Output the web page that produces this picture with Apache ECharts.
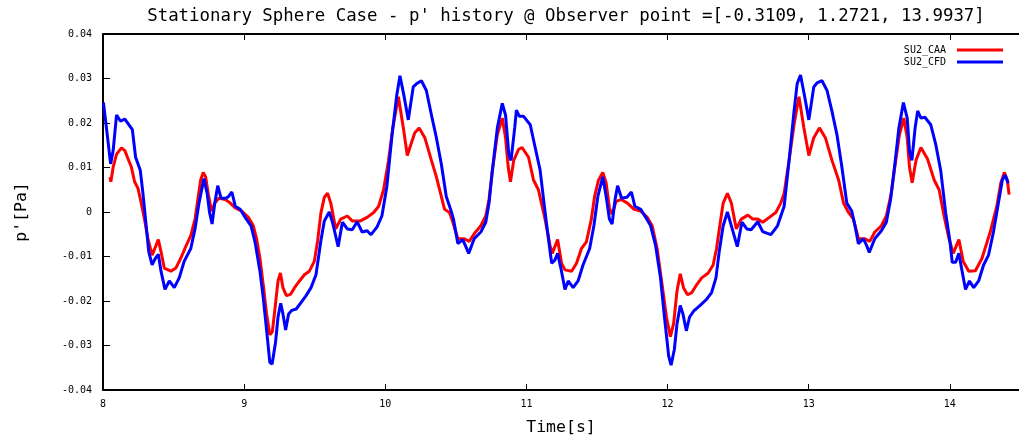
<!DOCTYPE html>
<html><head><meta charset="utf-8">
<script src="https://cdn.jsdelivr.net/npm/echarts@6/dist/echarts.min.js"></script>
<style>html,body{margin:0;padding:0;background:#fff}#c{width:1019px;height:441px}</style>
</head><body><div id="c"></div>
<script>
const chartTitle = "Stationary Sphere Case - p' history @ Observer point =[-0.3109, 1.2721, 13.9937]";
const xName = "Time[s]";
const yName = "p'[Pa]";
const seriesNames = ["SU2_CAA", "SU2_CFD"];

const caaTime = [8.049,8.056,8.072,8.096,8.131,8.155,8.178,8.201,8.224,8.248,8.271,8.294,8.318,8.348,8.376,8.392,8.411,8.434,8.481,8.516,8.551,8.586,8.622,8.652,8.675,8.692,8.710,8.727,8.745,8.769,8.792,8.820,8.867,8.902,8.937,8.983,9.030,9.065,9.088,9.112,9.135,9.159,9.182,9.200,9.222,9.240,9.257,9.275,9.299,9.329,9.357,9.392,9.427,9.462,9.497,9.521,9.544,9.568,9.591,9.614,9.649,9.684,9.731,9.766,9.824,9.871,9.918,9.953,9.988,10.023,10.053,10.093,10.128,10.156,10.186,10.209,10.240,10.280,10.327,10.362,10.397,10.420,10.455,10.479,10.514,10.560,10.595,10.630,10.677,10.712,10.735,10.759,10.794,10.829,10.852,10.871,10.887,10.910,10.945,10.969,11.015,11.050,11.085,11.132,11.167,11.183,11.221,11.249,11.273,11.320,11.355,11.390,11.425,11.460,11.483,11.511,11.541,11.565,11.588,11.607,11.635,11.670,11.716,11.763,11.810,11.856,11.891,11.926,11.961,11.992,12.020,12.043,12.067,12.090,12.113,12.141,12.172,12.207,12.242,12.288,12.323,12.347,12.370,12.394,12.424,12.452,12.487,12.522,12.569,12.604,12.639,12.674,12.721,12.767,12.802,12.826,12.861,12.896,12.931,12.966,13.001,13.036,13.076,13.118,13.165,13.212,13.247,13.282,13.317,13.352,13.398,13.433,13.468,13.515,13.550,13.585,13.613,13.643,13.674,13.698,13.714,13.733,13.760,13.795,13.842,13.889,13.924,13.959,13.994,14.024,14.064,14.095,14.134,14.181,14.228,14.286,14.333,14.361,14.386,14.407,14.420];
const caaP = [0.0078,0.0068,0.0101,0.0130,0.0144,0.0138,0.0119,0.0101,0.0068,0.0053,0.0020,-0.0016,-0.0060,-0.0097,-0.0075,-0.0062,-0.0089,-0.0126,-0.0133,-0.0126,-0.0104,-0.0078,-0.0053,-0.0016,0.0035,0.0072,0.0089,0.0079,0.0042,0.0002,0.0020,0.0031,0.0028,0.0020,0.0009,0.0002,-0.0012,-0.0031,-0.0060,-0.0104,-0.0163,-0.0229,-0.0276,-0.0269,-0.0207,-0.0155,-0.0137,-0.0170,-0.0188,-0.0185,-0.0170,-0.0155,-0.0141,-0.0133,-0.0111,-0.0064,-0.0002,0.0033,0.0042,0.0020,-0.0038,-0.0016,-0.0009,-0.0020,-0.0020,-0.0012,-0.0001,0.0013,0.0050,0.0116,0.0189,0.0259,0.0189,0.0127,0.0156,0.0178,0.0189,0.0167,0.0116,0.0079,0.0035,0.0006,-0.0001,-0.0023,-0.0060,-0.0060,-0.0066,-0.0049,-0.0031,-0.0009,0.0028,0.0094,0.0174,0.0211,0.0167,0.0101,0.0068,0.0116,0.0141,0.0145,0.0123,0.0072,0.0050,-0.0016,-0.0075,-0.0093,-0.0062,-0.0115,-0.0130,-0.0133,-0.0115,-0.0082,-0.0067,-0.0016,0.0035,0.0072,0.0089,0.0065,0.0009,-0.0005,0.0024,0.0028,0.0020,0.0006,0.0002,-0.0012,-0.0031,-0.0082,-0.0163,-0.0236,-0.0280,-0.0251,-0.0177,-0.0139,-0.0170,-0.0186,-0.0181,-0.0163,-0.0148,-0.0137,-0.0119,-0.0082,-0.0031,0.0020,0.0042,0.0020,-0.0038,-0.0016,-0.0007,-0.0016,-0.0016,-0.0023,-0.0012,-0.0001,0.0020,0.0042,0.0116,0.0196,0.0259,0.0189,0.0127,0.0167,0.0189,0.0167,0.0116,0.0072,0.0020,-0.0001,-0.0016,-0.0060,-0.0060,-0.0066,-0.0045,-0.0031,-0.0009,0.0042,0.0108,0.0174,0.0211,0.0167,0.0101,0.0066,0.0116,0.0145,0.0119,0.0072,0.0050,-0.0009,-0.0060,-0.0093,-0.0062,-0.0111,-0.0133,-0.0132,-0.0104,-0.0045,0.0013,0.0065,0.0089,0.0072,0.0039];

const cfdTime = [8.003,8.030,8.054,8.072,8.096,8.107,8.124,8.154,8.184,8.208,8.231,8.264,8.283,8.306,8.324,8.348,8.371,8.392,8.411,8.439,8.470,8.505,8.540,8.575,8.622,8.652,8.680,8.715,8.738,8.755,8.773,8.792,8.813,8.836,8.871,8.890,8.913,8.937,8.972,9.007,9.049,9.077,9.112,9.135,9.159,9.182,9.198,9.222,9.240,9.259,9.275,9.294,9.315,9.338,9.369,9.404,9.439,9.474,9.509,9.544,9.568,9.603,9.626,9.666,9.696,9.731,9.766,9.801,9.836,9.871,9.899,9.941,9.976,10.011,10.046,10.081,10.104,10.132,10.163,10.198,10.221,10.256,10.291,10.327,10.362,10.397,10.432,10.467,10.483,10.514,10.549,10.567,10.591,10.630,10.677,10.712,10.735,10.759,10.794,10.829,10.852,10.875,10.891,10.917,10.929,10.950,10.980,11.027,11.062,11.097,11.132,11.162,11.179,11.202,11.221,11.244,11.273,11.296,11.331,11.366,11.401,11.448,11.478,11.506,11.541,11.565,11.588,11.607,11.628,11.646,11.674,11.712,11.744,11.768,11.810,11.845,11.880,11.915,11.950,11.978,12.008,12.025,12.048,12.067,12.090,12.109,12.133,12.156,12.184,12.231,12.277,12.312,12.343,12.366,12.394,12.424,12.452,12.494,12.527,12.562,12.592,12.639,12.674,12.732,12.779,12.826,12.861,12.896,12.918,12.942,12.970,13.001,13.036,13.059,13.094,13.130,13.165,13.200,13.235,13.270,13.305,13.328,13.352,13.387,13.410,13.429,13.468,13.515,13.550,13.580,13.608,13.639,13.671,13.698,13.714,13.731,13.754,13.772,13.795,13.823,13.865,13.900,13.935,13.970,14.001,14.017,14.041,14.064,14.087,14.111,14.139,14.169,14.204,14.239,14.274,14.309,14.344,14.372,14.391,14.414];
const cfdP = [0.0246,0.0174,0.0108,0.0138,0.0218,0.0222,0.0204,0.0209,0.0196,0.0185,0.0123,0.0094,0.0042,-0.0031,-0.0089,-0.0119,-0.0104,-0.0095,-0.0133,-0.0174,-0.0155,-0.0170,-0.0148,-0.0111,-0.0082,-0.0038,0.0020,0.0075,0.0042,-0.0001,-0.0027,0.0020,0.0059,0.0031,0.0031,0.0035,0.0045,0.0013,0.0006,-0.0012,-0.0031,-0.0067,-0.0133,-0.0192,-0.0265,-0.0338,-0.0342,-0.0294,-0.0236,-0.0205,-0.0229,-0.0265,-0.0229,-0.0221,-0.0218,-0.0203,-0.0188,-0.0170,-0.0141,-0.0064,-0.0020,0.0000,-0.0023,-0.0078,-0.0023,-0.0038,-0.0040,-0.0022,-0.0045,-0.0042,-0.0051,-0.0034,-0.0009,0.0057,0.0167,0.0262,0.0306,0.0262,0.0207,0.0281,0.0288,0.0295,0.0273,0.0218,0.0167,0.0108,0.0035,0.0002,-0.0016,-0.0071,-0.0062,-0.0075,-0.0093,-0.0060,-0.0045,-0.0023,0.0020,0.0094,0.0189,0.0244,0.0218,0.0130,0.0116,0.0189,0.0229,0.0215,0.0215,0.0196,0.0145,0.0094,0.0000,-0.0075,-0.0115,-0.0108,-0.0093,-0.0126,-0.0174,-0.0155,-0.0170,-0.0155,-0.0119,-0.0082,-0.0031,0.0035,0.0079,0.0035,-0.0016,-0.0027,0.0028,0.0059,0.0031,0.0033,0.0045,0.0013,0.0006,-0.0012,-0.0031,-0.0075,-0.0148,-0.0236,-0.0324,-0.0344,-0.0309,-0.0251,-0.0210,-0.0229,-0.0267,-0.0236,-0.0223,-0.0210,-0.0196,-0.0181,-0.0148,-0.0089,-0.0031,0.0000,-0.0031,-0.0078,-0.0023,-0.0038,-0.0040,-0.0022,-0.0044,-0.0051,-0.0031,0.0013,0.0116,0.0226,0.0288,0.0308,0.0262,0.0207,0.0281,0.0290,0.0295,0.0273,0.0226,0.0174,0.0101,0.0020,0.0002,-0.0031,-0.0071,-0.0060,-0.0075,-0.0091,-0.0060,-0.0042,-0.0023,0.0028,0.0101,0.0189,0.0246,0.0211,0.0138,0.0116,0.0189,0.0227,0.0211,0.0213,0.0196,0.0152,0.0094,-0.0001,-0.0067,-0.0113,-0.0113,-0.0093,-0.0133,-0.0174,-0.0155,-0.0170,-0.0155,-0.0119,-0.0097,-0.0045,0.0020,0.0072,0.0083,0.0065];

const xMin = 8, xMax = 14.49, xStep = 1;
const yMin = -0.04, yMax = 0.04, yStep = 0.01;

const mono = '"DejaVu Sans Mono", "Liberation Mono", monospace';
const zip = (a, b) => a.map((v, i) => [v, b[i]]);

const chart = echarts.init(document.getElementById('c'), null, {renderer: 'canvas'});
const axisLineStyle = {color: '#000', width: 2};
chart.setOption({
  animation: false,
  backgroundColor: '#fff',
  graphic: [{
    type: 'text', x: 566, y: 16,
    style: {text: chartTitle, fill: '#000', font: '17.4px ' + mono, align: 'center', verticalAlign: 'middle'}
  }],
  legend: {
    data: seriesNames, orient: 'vertical', right: 11, top: 39, align: 'right',
    itemWidth: 46, itemHeight: 3, itemGap: 0, icon: 'rect',
    textStyle: {fontFamily: mono, fontSize: 10, color: '#000', lineHeight: 12, padding: [0, 6, 0, 0]}
  },
  grid: {left: 103, top: 34, width: 926, height: 364, containLabel: false},
  xAxis: [{
    type: 'value', min: xMin, max: xMax, interval: xStep, position: 'bottom',
    name: xName, nameLocation: 'middle', nameGap: 29,
    nameTextStyle: {fontFamily: mono, fontSize: 16.5, color: '#000'},
    axisLine: {show: true, onZero: false, lineStyle: axisLineStyle},
    axisTick: {show: true, inside: true, length: 6, lineStyle: {color: '#000', width: 1}},
    axisLabel: {fontFamily: mono, fontSize: 10, color: '#000', margin: 9, showMaxLabel: false},
    splitLine: {show: false}
  }, {
    type: 'value', min: xMin, max: xMax, interval: xStep, position: 'top',
    axisLine: {show: true, onZero: false, lineStyle: axisLineStyle},
    axisTick: {show: true, inside: true, length: 6, lineStyle: {color: '#000', width: 1}},
    axisLabel: {show: false}, splitLine: {show: false}
  }],
  yAxis: {
    type: 'value', min: yMin, max: yMax, interval: yStep,
    name: yName, nameLocation: 'middle', nameGap: 73, nameRotate: 90,
    nameTextStyle: {fontFamily: mono, fontSize: 16.5, color: '#000'},
    axisLine: {show: true, onZero: false, lineStyle: axisLineStyle},
    axisTick: {show: true, inside: true, length: 7, lineStyle: {color: '#000', width: 1}},
    axisLabel: {fontFamily: mono, fontSize: 10, color: '#000', margin: 11},
    splitLine: {show: false}
  },
  series: [{
    name: seriesNames[0], type: 'line', data: zip(caaTime, caaP), showSymbol: false, symbol: 'none',
    lineStyle: {color: '#ff0000', width: 3}, itemStyle: {color: '#ff0000'}, clip: true
  }, {
    name: seriesNames[1], type: 'line', data: zip(cfdTime, cfdP), showSymbol: false, symbol: 'none',
    lineStyle: {color: '#0000ff', width: 3}, itemStyle: {color: '#0000ff'}, clip: true
  }]
});
</script>
</body></html>
